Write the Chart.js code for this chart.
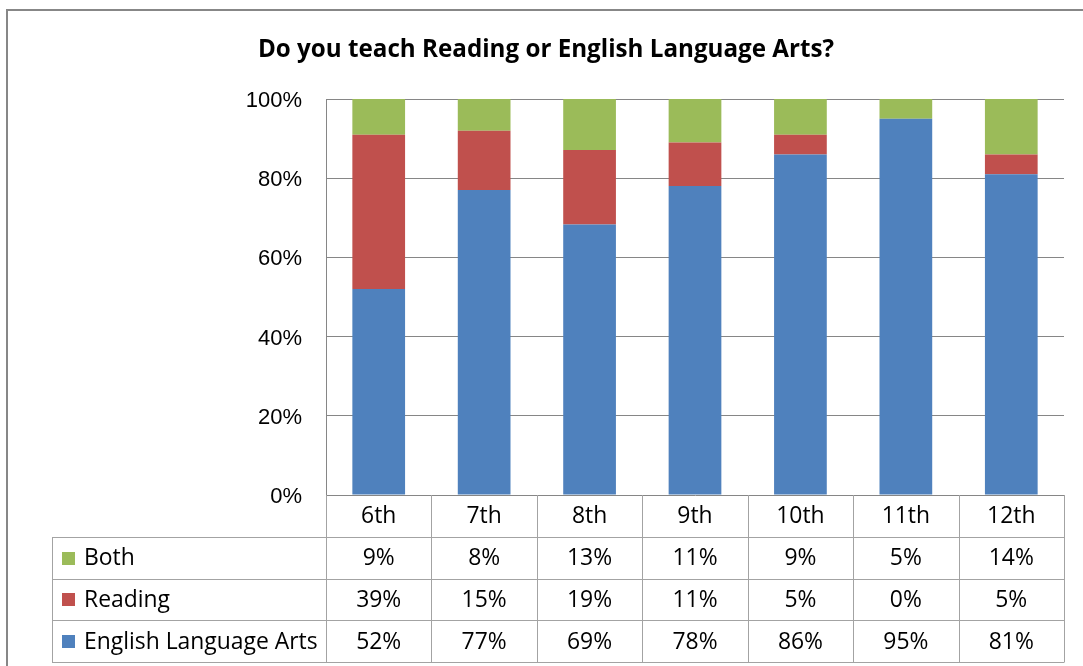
<!DOCTYPE html>
<html>
<head>
<meta charset="utf-8">
<title>Do you teach Reading or English Language Arts?</title>
<script src="https://cdn.jsdelivr.net/npm/chart.js@4.4.1/dist/chart.umd.min.js"></script>
<style>
  html, body { margin: 0; padding: 0; background: #fff; }
  canvas { display: block; }
</style>
</head>
<body>
<canvas id="gradeChart" width="1083" height="666"></canvas>
<script>
// --- data ---
const grades = ['6th', '7th', '8th', '9th', '10th', '11th', '12th'];
const bothPct = [9, 8, 13, 11, 9, 5, 14];
const readingPct = [39, 15, 19, 11, 5, 0, 5];
const elaPct = [52, 77, 69, 78, 86, 95, 81];
const yTicks = [0, 20, 40, 60, 80, 100];

const TITLE = 'Do you teach Reading or English Language Arts?';

// --- look ---
const COLORS = { ela: '#4F81BD', reading: '#C0504D', both: '#9BBB59' };
const GRID = '#868686';
const TABLE_LINE = '#a3a3a3';
const TEXT_FONT = "'Open Sans', 'DejaVu Sans', sans-serif";
const TICK_FONT = "'Liberation Sans', Arial, sans-serif";

// pick a font size so a string comes out at a given width
const measureCtx = document.createElement('canvas').getContext('2d');
function fitSize(text, weight, family, width) {
    measureCtx.font = `${weight} 100px ${family}`;
    return Math.round(100 * width / measureCtx.measureText(text).width * 10) / 10;
}
const titleSize = fitSize(TITLE, 'bold', TEXT_FONT, 577);
const tableSize = fitSize('English Language Arts', 'normal', TEXT_FONT, 234);
const tickSize = 22;

// 100% stacked: each column is scaled to its own total
const totals = grades.map((_, i) => elaPct[i] + readingPct[i] + bothPct[i]);
const share = arr => arr.map((v, i) => v / totals[i] * 100);

// table rows, top to bottom, as listed under the chart
const tableRows = [
    { label: 'Both', color: COLORS.both, values: bothPct },
    { label: 'Reading', color: COLORS.reading, values: readingPct },
    { label: 'English Language Arts', color: COLORS.ela, values: elaPct }
];

// frame, title and the data table under the plot
const decorPlugin = {
    id: 'decor',
    afterDraw(chart) {
        const { ctx, chartArea: area, scales: { x } } = chart;
        ctx.save();

        // outer frame
        ctx.strokeStyle = '#878787';
        ctx.lineWidth = 2;
        ctx.strokeRect(7, 10, 1100, 700);

        // title
        ctx.fillStyle = '#000';
        ctx.font = `bold ${titleSize}px ${TEXT_FONT}`;
        ctx.textAlign = 'center';
        ctx.textBaseline = 'middle';
        ctx.fillText(TITLE, 546, 50);

        // data table
        const rowH = 41.75;
        const top = area.bottom;
        const tableLeft = 52;
        const half = (area.right - area.left) / grades.length / 2;
        const bottom = top + rowH * 4;

        ctx.strokeStyle = TABLE_LINE;
        ctx.lineWidth = 1;
        ctx.beginPath();
        // horizontal rules
        for (let r = 1; r <= 4; r++) {
            const y = Math.round(top + rowH * r) + 0.5;
            ctx.moveTo(tableLeft, y);
            ctx.lineTo(area.right, y);
        }
        // left edge of the label column
        ctx.moveTo(tableLeft + 0.5, Math.round(top + rowH));
        ctx.lineTo(tableLeft + 0.5, Math.round(bottom) + 0.5);
        // column separators
        for (let i = 0; i <= grades.length; i++) {
            const xe = Math.round(x.getPixelForValue(Math.min(i, grades.length - 1)) + (i === grades.length ? half : -half)) + 0.5;
            ctx.moveTo(xe, top);
            ctx.lineTo(xe, Math.round(bottom) + 0.5);
        }
        ctx.stroke();

        ctx.font = `${tableSize}px ${TEXT_FONT}`;
        ctx.fillStyle = '#000';
        ctx.textAlign = 'center';
        ctx.textBaseline = 'middle';
        grades.forEach((g, i) => {
            ctx.fillText(g, x.getPixelForValue(i), top + rowH / 2 + 1);
        });
        tableRows.forEach((row, r) => {
            const cy = top + rowH * (r + 1.5) + 1;
            ctx.fillStyle = row.color;
            ctx.fillRect(62, Math.round(cy - 7), 13, 13);
            ctx.fillStyle = '#000';
            ctx.textAlign = 'left';
            ctx.fillText(row.label, 84, cy);
            ctx.textAlign = 'center';
            row.values.forEach((v, i) => {
                ctx.fillText(v + '%', x.getPixelForValue(i), cy);
            });
        });

        ctx.restore();
    }
};

const ctx = document.getElementById('gradeChart').getContext('2d');
new Chart(ctx, {
    type: 'bar',
    data: {
        labels: grades,
        datasets: [
            { label: 'English Language Arts', data: share(elaPct), backgroundColor: COLORS.ela },
            { label: 'Reading', data: share(readingPct), backgroundColor: COLORS.reading },
            { label: 'Both', data: share(bothPct), backgroundColor: COLORS.both }
        ]
    },
    options: {
        responsive: false,
        animation: false,
        devicePixelRatio: 1,
        barPercentage: 0.5,
        categoryPercentage: 1,
        layout: { padding: { left: 0, top: 99, right: 19, bottom: 171 } },
        plugins: {
            legend: { display: false },
            title: { display: false },
            tooltip: { enabled: false }
        },
        scales: {
            x: { stacked: true, display: false },
            y: {
                stacked: true,
                min: 0,
                max: 100,
                afterFit(scale) { scale.width = 326; },
                afterBuildTicks(scale) { scale.ticks = yTicks.map(v => ({ value: v })); },
                ticks: {
                    padding: 24,
                    labelOffset: 2,
                    color: '#000',
                    font: { family: TICK_FONT, size: tickSize },
                    callback: v => v + '%'
                },
                grid: { color: GRID, drawTicks: false },
                border: { display: true, color: GRID }
            }
        }
    },
    plugins: [decorPlugin]
});
</script>
</body>
</html>
